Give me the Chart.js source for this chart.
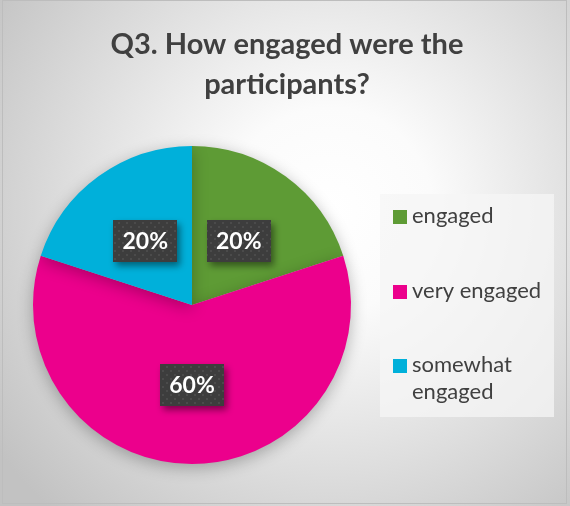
<!DOCTYPE html>
<html>
<head>
<meta charset="utf-8">
<title>Q3. How engaged were the participants?</title>
<script src="https://cdn.jsdelivr.net/npm/chart.js@4.4.1/dist/chart.umd.min.js"></script>
<style>
    html, body { margin: 0; padding: 0; background: #ffffff; }
    #wrap { position: relative; width: 570px; height: 506px; }
</style>
</head>
<body>
<div id="wrap"><canvas id="engagementChart" width="570" height="506"></canvas></div>
<script>
// Données du sondage
const titleLines = ['Q3. How engaged were the', 'participants?'];
const categories = ['engaged', 'very engaged', 'somewhat engaged'];
const legendLines = [['engaged'], ['very engaged'], ['somewhat', 'engaged']];
const percentages = [20, 60, 20];
const sliceColors = ['#5e9b35', '#ec008c', '#00b0da'];

const TEXT_COLOR = '#404040';
const FONT = 'Lato, "Open Sans", sans-serif';

/**
 * Fond dégradé + cadre + titre
 */
const backgroundPlugin = {
    id: 'backgroundPlugin',
    beforeDraw(chart) {
        const ctx = chart.ctx;
        const w = chart.width, h = chart.height;
        ctx.save();
        const grad = ctx.createRadialGradient(330, 210, 0, 330, 210, 410);
        grad.addColorStop(0, '#ffffff');
        grad.addColorStop(0.25, '#fbfbfb');
        grad.addColorStop(1, '#c2c2c2');
        ctx.fillStyle = grad;
        ctx.fillRect(0, 0, w, h);

        ctx.strokeStyle = '#bdbdbd';
        ctx.lineWidth = 1;
        ctx.strokeRect(2.5, 0.5, w - 6, h - 3);

        ctx.fillStyle = TEXT_COLOR;
        ctx.font = 'bold 29px ' + FONT;
        ctx.textAlign = 'center';
        ctx.textBaseline = 'middle';
        titleLines.forEach((line, i) => ctx.fillText(line, 287, 45 + i * 40));
        ctx.restore();
    }
};

/**
 * Ombre portée du camembert
 */
const pieShadowPlugin = {
    id: 'pieShadowPlugin',
    beforeDatasetsDraw(chart) {
        const ctx = chart.ctx;
        ctx.save();
        ctx.shadowColor = 'rgba(0, 0, 0, 0.28)';
        ctx.shadowBlur = 16;
        ctx.shadowOffsetY = 4;
    },
    afterDatasetsDraw(chart) {
        chart.ctx.restore();
    }
};

// Motif pointillé des étiquettes
function makeDotPattern(ctx) {
    const tile = document.createElement('canvas');
    tile.width = 8;
    tile.height = 8;
    const t = tile.getContext('2d');
    t.fillStyle = '#3d3d3d';
    t.fillRect(0, 0, 8, 8);
    t.fillStyle = '#4b4b4b';
    t.fillRect(2, 2, 2, 2);
    t.fillRect(6, 6, 2, 2);
    return ctx.createPattern(tile, 'repeat');
}

/**
 * Étiquettes de pourcentage sur chaque part
 */
const valueLabelPlugin = {
    id: 'valueLabelPlugin',
    afterDatasetsDraw(chart) {
        const ctx = chart.ctx;
        const meta = chart.getDatasetMeta(0);
        const pattern = makeDotPattern(ctx);
        const boxW = 64, boxH = 42;

        meta.data.forEach((arc, i) => {
            const pos = arc.tooltipPosition();
            const x = Math.round(pos.x - boxW / 2);
            const y = Math.round(pos.y - boxH / 2);

            ctx.save();
            ctx.shadowColor = 'rgba(0, 0, 0, 0.45)';
            ctx.shadowBlur = 7;
            ctx.shadowOffsetX = 3;
            ctx.shadowOffsetY = 4;
            ctx.fillStyle = pattern;
            ctx.fillRect(x, y, boxW, boxH);
            ctx.restore();

            ctx.save();
            ctx.fillStyle = '#ffffff';
            ctx.font = 'bold 23px ' + FONT;
            ctx.textAlign = 'center';
            ctx.textBaseline = 'middle';
            ctx.fillText(percentages[i] + '%', pos.x, pos.y + 1);
            ctx.restore();
        });
    }
};

/**
 * Légende dans un cadre à droite
 */
const sideLegendPlugin = {
    id: 'sideLegendPlugin',
    afterDraw(chart) {
        const ctx = chart.ctx;
        const rowTops = [210, 285, 359];
        ctx.save();
        ctx.fillStyle = 'rgba(245, 245, 245, 0.75)';
        ctx.fillRect(380, 194, 174, 223);

        ctx.font = '22px ' + FONT;
        ctx.textAlign = 'left';
        ctx.textBaseline = 'alphabetic';
        categories.forEach((cat, i) => {
            const top = rowTops[i];
            ctx.fillStyle = sliceColors[i];
            ctx.fillRect(393, top, 14, 14);
            ctx.fillStyle = TEXT_COLOR;
            legendLines[i].forEach((line, j) => {
                ctx.fillText(line, 412, top + 13 + j * 27);
            });
        });
        ctx.restore();
    }
};

const canvas = document.getElementById('engagementChart');
new Chart(canvas, {
    type: 'pie',
    data: {
        labels: categories,
        datasets: [{
            data: percentages,
            backgroundColor: sliceColors,
            borderWidth: 0
        }]
    },
    options: {
        responsive: false,
        animation: false,
        layout: {
            padding: { left: 33, right: 219, top: 146, bottom: 42 }
        },
        plugins: {
            legend: { display: false },
            title: { display: false },
            tooltip: { enabled: false }
        }
    },
    plugins: [backgroundPlugin, pieShadowPlugin, valueLabelPlugin, sideLegendPlugin]
});
</script>
</body>
</html>
